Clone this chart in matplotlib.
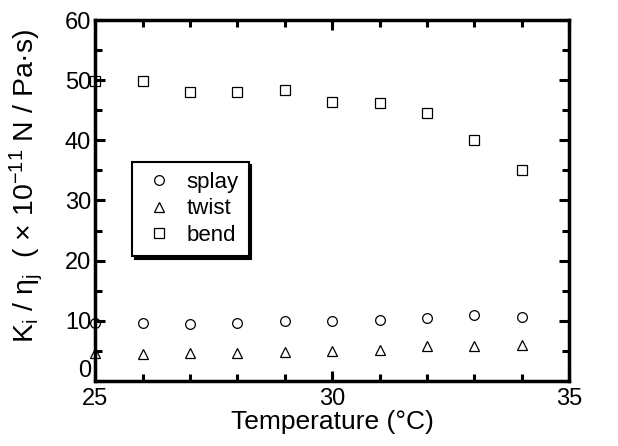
import numpy as np
import matplotlib.pyplot as plt
from matplotlib.ticker import MultipleLocator, FuncFormatter

plt.rcParams['font.family'] = ['Liberation Sans', 'DejaVu Sans']
plt.rcParams['mathtext.fontset'] = 'custom'
plt.rcParams['mathtext.rm'] = 'Liberation Sans'
plt.rcParams['mathtext.it'] = 'Liberation Sans'

temperature = [25, 26, 27, 28, 29, 30, 31, 32, 33, 34]
splay = [9.6, 9.7, 9.4, 9.7, 9.9, 10.0, 10.1, 10.5, 11.0, 10.7]
twist = [4.6, 4.5, 4.6, 4.6, 4.8, 4.9, 5.2, 5.8, 5.8, 6.0]
bend = [49.8, 49.8, 48.0, 48.1, 48.3, 46.3, 46.2, 44.5, 40.1, 35.0]

fig = plt.figure(figsize=(6.18, 4.46), dpi=100)
ax = fig.add_axes([0.154, 0.146, 0.767, 0.809])

mk = dict(linestyle='none', markerfacecolor='none', markeredgecolor='black',
          markeredgewidth=0.9, clip_on=False)
ax.plot(temperature, splay, 'o', markersize=7, label='splay', **mk)
ax.plot(temperature, twist, '^', markersize=6.5, label='twist', **mk)
ax.plot(temperature, bend, 's', markersize=7.5, label='bend', **mk)

ax.set_xlim(25, 35)
ax.set_ylim(0, 60)
ax.xaxis.set_major_locator(MultipleLocator(5))
ax.xaxis.set_minor_locator(MultipleLocator(1))
ax.yaxis.set_major_locator(MultipleLocator(10))
ax.yaxis.set_minor_locator(MultipleLocator(5))
# the "0" is drawn separately, lifted a bit so it clears the "25"
ax.yaxis.set_major_formatter(FuncFormatter(lambda v, p: '' if v == 0 else f'{v:.0f}'))
ax.annotate('0', xy=(0, 0), xycoords='axes fraction', xytext=(-3, 7),
            textcoords='offset points', ha='right', va='center', fontsize=17)

ax.tick_params(which='both', direction='in', top=True, right=True, width=2.2,
               labelsize=17)
ax.tick_params(axis='x', pad=5)
ax.tick_params(axis='y', pad=3)
ax.tick_params(which='major', length=7)
ax.tick_params(which='minor', length=5)
for s in ax.spines.values():
    s.set_linewidth(2.5)

ax.set_xlabel('Temperature (\u00b0C)', fontsize=19, labelpad=0)
ax.set_ylabel('K$_\\mathregular{i}$ / \u03b7$_\\mathregular{j}$  ( \u00d7 10$^\\mathregular{-11}$ N / Pa\u00b7s)',
              fontsize=20.5)
ax.yaxis.set_label_coords(-0.105, 0.54)

leg = ax.legend(loc='upper left', bbox_to_anchor=(0.078, 0.607), fontsize=16,
                frameon=True, fancybox=False, shadow={'color': 'black', 'alpha': 1},
                handletextpad=0.5, borderpad=0.45, labelspacing=0.25, handlelength=1.5,
                borderaxespad=0)
leg.get_frame().set_edgecolor('black')
leg.get_frame().set_linewidth(1.5)

fig.savefig('out.png', dpi=100)
